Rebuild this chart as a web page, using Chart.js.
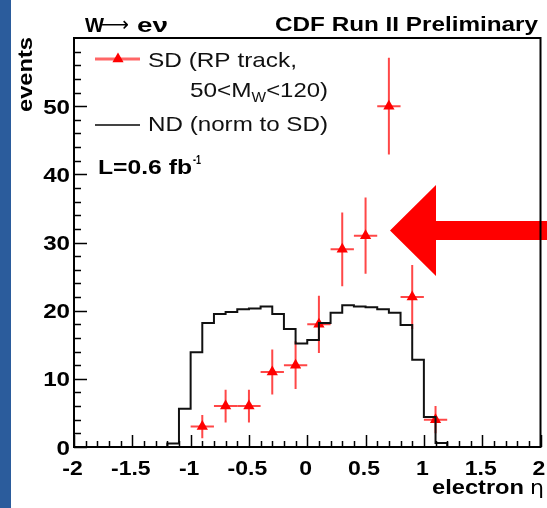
<!DOCTYPE html>
<html><head><meta charset="utf-8">
<script src="https://cdn.jsdelivr.net/npm/chart.js@4.4.0/dist/chart.umd.min.js"></script>
<style>html,body{margin:0;padding:0;background:#fff;overflow:hidden}canvas{display:block}</style>
</head><body><canvas id="c" width="547" height="508"></canvas>
<script>
// ---- data ----
const ndBinLow = [-1.2,-1.1,-1.0,-0.9,-0.8,-0.7,-0.6,-0.5,-0.4,-0.3,-0.2,-0.1,0.0,0.1,0.2,0.3,0.4,0.5,0.6,0.7,0.8,0.9,1.0,1.1];
const ndValues = [0.5,5.6,13.9,18.2,19.5,19.8,20.2,20.3,20.6,19.5,17.3,15.2,15.7,18.2,19.7,20.8,20.6,20.5,20.2,19.7,17.9,12.8,4.4,0.6];
const ndBinWidth = 0.1;
const sdEta = [-0.9,-0.7,-0.5,-0.3,-0.1,0.1,0.3,0.5,0.7,0.9,1.1];
const sdEvents = [3,6,6,11,12,18,29,31,50,22,4];
const sdErr = [1.7,2.4,2.4,3.3,3.5,4.2,5.4,5.6,7.1,4.7,2.0];
const sdHalfBin = 0.1;
const xTicks = [-2,-1.5,-1,-0.5,0,0.5,1,1.5,2];
const xTickLabels = ['-2','-1.5','-1','-0.5','0','0.5','1','1.5','2'];
const yTicks = [0,10,20,30,40,50];
const yTickLabels = ['0','10','20','30','40','50'];

// ---- build datasets ----
const ndPoints = [{x: ndBinLow[0], y: 0}];
ndBinLow.forEach((x, i) => ndPoints.push({x: x, y: ndValues[i]}));
const lastEdge = ndBinLow[ndBinLow.length - 1] + ndBinWidth;
ndPoints.push({x: lastEdge, y: ndValues[ndValues.length - 1]});
ndPoints.push({x: lastEdge, y: 0});
const sdPoints = sdEta.map((x, i) => ({x: x, y: sdEvents[i]}));

// draws text stretched horizontally by factor sx
function sText(ctx, s, x, y, font, sx, align) {
  ctx.save();
  ctx.font = font;
  const w = ctx.measureText(s).width * sx;
  let x0 = x;
  if (align === 'right') x0 = x - w;
  else if (align === 'center') x0 = x - w / 2;
  ctx.translate(x0, y);
  ctx.scale(sx, 1);
  ctx.textAlign = 'left';
  ctx.fillText(s, 0, 0);
  ctx.restore();
  return w;
}
// draws text stretched to a given width
function wText(ctx, s, x, y, font, width, align) {
  ctx.save();
  ctx.font = font;
  const sx = width / ctx.measureText(s).width;
  ctx.restore();
  return sText(ctx, s, x, y, font, sx, align);
}

const BF = (n) => 'bold ' + n + 'px "Liberation Sans", Arial, sans-serif';
const RF = (n) => n + 'px "Liberation Sans", Arial, sans-serif';

const decor = {
  id: 'decor',
  beforeDraw(chart) {
    const ctx = chart.ctx;
    ctx.save();
    ctx.fillStyle = '#fff';
    ctx.fillRect(0, 0, chart.width, chart.height);
    ctx.fillStyle = '#2b5c9c';
    ctx.fillRect(0, 0, 11, chart.height);
    ctx.restore();
  },
  beforeDatasetsDraw(chart) {
    const ctx = chart.ctx, xs = chart.scales.x, ys = chart.scales.y;
    ctx.save();
    ctx.strokeStyle = 'rgba(255,0,0,0.72)';
    ctx.lineWidth = 2;
    sdEta.forEach((x, i) => {
      const px = xs.getPixelForValue(x), py = ys.getPixelForValue(sdEvents[i]);
      ctx.beginPath();
      ctx.moveTo(px, ys.getPixelForValue(sdEvents[i] - sdErr[i]));
      ctx.lineTo(px, ys.getPixelForValue(sdEvents[i] + sdErr[i]));
      ctx.moveTo(xs.getPixelForValue(x - sdHalfBin), py);
      ctx.lineTo(xs.getPixelForValue(x + sdHalfBin), py);
      ctx.stroke();
    });
    ctx.restore();
  },
  afterDatasetsDraw(chart) {
    const ctx = chart.ctx, xs = chart.scales.x, ys = chart.scales.y, a = chart.chartArea;
    ctx.save();
    // arrow
    ctx.fillStyle = '#ff0000';
    ctx.beginPath();
    ctx.moveTo(390, 230.5);
    ctx.lineTo(436, 185);
    ctx.lineTo(436, 221);
    ctx.lineTo(547, 221);
    ctx.lineTo(547, 240);
    ctx.lineTo(436, 240);
    ctx.lineTo(436, 276);
    ctx.closePath();
    ctx.fill();
    // frame
    ctx.strokeStyle = '#000';
    ctx.lineWidth = 2;
    ctx.strokeRect(a.left, a.top, a.right - a.left, a.bottom - a.top);
    // ticks
    ctx.lineWidth = 1.5;
    ctx.beginPath();
    for (let v = -2; v <= 2.0001; v += 0.1) {
      const major = Math.abs(v * 2 - Math.round(v * 2)) < 1e-6;
      const px = Math.round(xs.getPixelForValue(v)) + 0.5;
      ctx.moveTo(px, a.bottom);
      ctx.lineTo(px, a.bottom - (major ? 12 : 6));
    }
    for (let v = 0; v <= 58.0001; v += 2) {
      const major = v % 10 === 0;
      const py = Math.round(ys.getPixelForValue(v)) + 0.5;
      ctx.moveTo(a.left, py);
      ctx.lineTo(a.left + (major ? 13 : 7), py);
    }
    ctx.stroke();
    // tick labels
    ctx.fillStyle = '#000';
    ctx.textBaseline = 'alphabetic';
    xTicks.forEach((v, i) => {
      sText(ctx, xTickLabels[i], xs.getPixelForValue(v) - 1.5, 475, BF(20), 1.15, 'center');
    });
    yTicks.forEach((v, i) => {
      sText(ctx, yTickLabels[i], 70, ys.getPixelForValue(v) + 7.5, BF(21), 1.15, 'right');
    });
    // titles
    wText(ctx, 'W', 85, 31.5, BF(21), 19);
    wText(ctx, '\u27f6', 101, 31, '20px "DejaVu Sans", sans-serif', 28);
    wText(ctx, 'e\u03bd', 137, 31.5, BF(21), 31);
    wText(ctx, 'CDF Run II Preliminary', 275, 31, BF(21), 263);
    // axis titles
    wText(ctx, 'electron', 432, 494, BF(20), 92);
    wText(ctx, '\u03b7', 530, 494, '20px "DejaVu Sans", sans-serif', 14);
    ctx.save();
    ctx.translate(32, 37);
    ctx.rotate(-Math.PI / 2);
    wText(ctx, 'events', 0, 0, BF(21), 75, 'right');
    ctx.restore();
    // legend
    ctx.strokeStyle = 'rgba(255,0,0,0.6)';
    ctx.lineWidth = 3;
    ctx.beginPath(); ctx.moveTo(95, 59); ctx.lineTo(140, 59); ctx.stroke();
    ctx.fillStyle = '#ff0000';
    ctx.beginPath(); ctx.moveTo(118, 52.5); ctx.lineTo(123.6, 62.3); ctx.lineTo(112.4, 62.3); ctx.closePath(); ctx.fill();
    ctx.strokeStyle = '#444';
    ctx.lineWidth = 2;
    ctx.beginPath(); ctx.moveTo(95, 125); ctx.lineTo(140, 125); ctx.stroke();
    ctx.fillStyle = '#111';
    const sx = 1.16;
    wText(ctx, 'SD (RP track,', 148, 66.5, RF(21), 149);
    let x2 = 190;
    x2 += sText(ctx, '50<M', x2, 96.5, RF(21), sx);
    x2 += sText(ctx, 'W', x2, 102, RF(14), 1.1);
    wText(ctx, '<120)', x2, 96.5, RF(21), 328 - x2);
    wText(ctx, 'ND (norm to SD)', 148, 130.5, RF(21), 180);
    ctx.fillStyle = '#000';
    wText(ctx, 'L=0.6 fb', 98, 173.5, BF(20), 94);
    wText(ctx, '-1', 193, 164, BF(12), 8);
    ctx.restore();
  }
};

new Chart(document.getElementById('c'), {
  type: 'scatter',
  data: {
    datasets: [
      {
        label: 'ND (norm to SD)',
        data: ndPoints,
        showLine: true,
        stepped: 'before',
        borderColor: '#111',
        borderWidth: 2,
        pointRadius: 0,
        fill: false
      },
      {
        label: 'SD (RP track, 50<MW<120)',
        data: sdPoints,
        showLine: false,
        pointStyle: 'triangle',
        pointRadius: 6.5,
        pointBackgroundColor: '#ff0000',
        pointBorderColor: '#ff0000',
        pointBorderWidth: 0
      }
    ]
  },
  options: {
    responsive: false,
    animation: false,
    events: [],
    layout: { padding: { left: 74, right: 2, top: 38, bottom: 61 } },
    plugins: { legend: { display: false }, tooltip: { enabled: false } },
    scales: {
      x: { type: 'linear', min: -2, max: 2, display: false },
      y: { type: 'linear', min: 0, max: 60, display: false }
    }
  },
  plugins: [decor]
});
</script>
</body></html>
